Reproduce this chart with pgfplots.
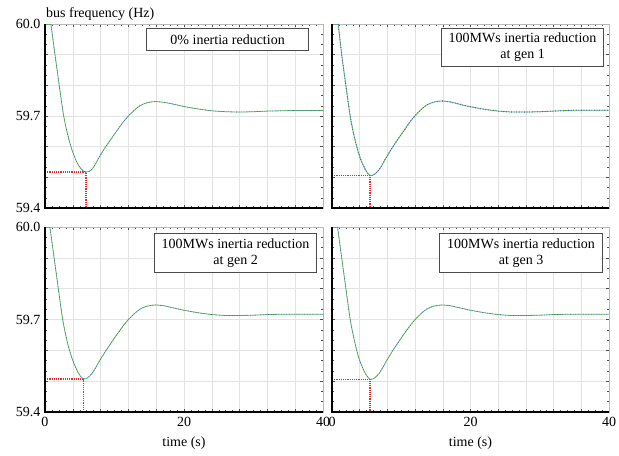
\documentclass[border=0pt]{standalone}
\usepackage{fontspec}
\setmainfont{Liberation Serif}
\usepackage{pgfplots}
\pgfplotsset{compat=1.18}
\usepackage{pgfplotstable}

% frequency traces (from the end of the flat start)
\pgfplotstableread{
t f
0.85 60.000
1.4 59.906
2.0 59.808
2.6 59.712
3.0 59.665
3.5 59.618
4.0 59.582
4.5 59.553
5.0 59.533
5.5 59.521
5.9 59.517
6.3 59.519
6.8 59.527
7.3 59.545
7.9 59.570
8.8 59.602
9.6 59.628
10.5 59.657
11.2 59.679
12.0 59.700
13.0 59.722
13.7 59.734
14.5 59.742
15.3 59.746
16.0 59.747
17.0 59.745
18.0 59.741
19.0 59.736
20.0 59.731
22.0 59.723
24.0 59.717
26.0 59.714
28.0 59.713
30.0 59.714
32.0 59.716
34.0 59.717
36.0 59.718
40.0 59.718
}\base

\pgfplotstableread{
t f
0.9 60.000
1.4 59.900
2.0 59.800
2.6 59.703
3.0 59.655
3.4 59.615
3.8 59.582
4.2 59.555
4.7 59.530
5.1 59.515
5.5 59.506
5.9 59.507
6.3 59.513
6.8 59.525
7.3 59.543
7.9 59.567
8.8 59.600
9.6 59.627
10.5 59.656
11.2 59.679
12.0 59.701
13.0 59.724
13.7 59.736
14.5 59.744
15.3 59.748
16.0 59.749
17.0 59.746
18.0 59.741
19.0 59.735
20.0 59.730
22.0 59.722
24.0 59.716
26.0 59.713
28.0 59.713
30.0 59.714
32.0 59.716
34.0 59.718
36.0 59.719
40.0 59.719
}\genone

\pgfplotstableread{
t f
0.7 60.000
1.3 59.902
1.9 59.803
2.5 59.706
2.9 59.658
3.3 59.618
3.8 59.580
4.2 59.556
4.7 59.531
5.1 59.516
5.5 59.507
5.9 59.508
6.3 59.514
6.8 59.526
7.3 59.544
7.9 59.568
8.8 59.600
9.6 59.627
10.5 59.656
11.2 59.678
12.0 59.700
13.0 59.722
13.7 59.734
14.5 59.742
15.3 59.746
16.0 59.747
17.0 59.745
18.0 59.740
19.0 59.735
20.0 59.730
22.0 59.722
24.0 59.716
26.0 59.713
28.0 59.713
30.0 59.714
32.0 59.716
34.0 59.717
36.0 59.717
40.0 59.717
}\gentwo

\pgfplotstableread{
t f
0.8 60.000
1.4 59.900
2.0 59.801
2.6 59.704
3.0 59.656
3.4 59.616
3.8 59.581
4.2 59.555
4.7 59.530
5.1 59.515
5.5 59.506
5.9 59.507
6.3 59.513
6.8 59.525
7.3 59.543
7.9 59.567
8.8 59.600
9.6 59.627
10.5 59.656
11.2 59.678
12.0 59.700
13.0 59.722
13.7 59.734
14.5 59.742
15.3 59.746
16.0 59.747
17.0 59.745
18.0 59.740
19.0 59.735
20.0 59.730
22.0 59.722
24.0 59.716
26.0 59.713
28.0 59.713
30.0 59.714
32.0 59.716
34.0 59.717
36.0 59.717
40.0 59.717
}\genthree

\definecolor{trgreen}{RGB}{95,180,95}
\definecolor{trblue}{RGB}{60,90,210}
\definecolor{trred}{RGB}{235,40,40}

\pgfplotsset{
  panel/.style={
    scale only axis, width=278bp, height=184bp, anchor=north west,
    xmin=0, xmax=40, ymin=59.4, ymax=60.0,
    xtick={0,4,...,40},
    ytick={59.4,59.5,59.6,59.7,59.8,59.9,60.0},
    minor x tick num=3, minor y tick num=2,
    grid=major, major grid style={gray!22, line width=0.6bp},
    tick align=inside, major tick length=3bp, minor tick length=2bp,
    tick style={gray!60!black, line width=0.5bp},
    axis line style={gray!55, line width=0.8bp},
    clip=false,
    ticklabel style={font=\fontsize{14bp}{16bp}\selectfont},
    xticklabel style={yshift=-2bp},
    yticklabel style={xshift=-1bp},
  },
  nox/.style={xticklabels={,,,,,,,,,,}},
  noy/.style={yticklabels={,,,,,,}},
  withx/.style={xticklabels={0,,,,,20,,,,,40}},
  withy/.style={yticklabels={59.4,,,59.7,,,60.0}},
  trace/.style={draw=trgreen, line width=0.8bp, smooth, tension=0.35},
  overlay/.style={draw=trblue, line width=0.6bp, dotted, smooth, tension=0.35},
  marker/.style={draw=trred, line width=1.3bp, dash pattern=on 1.2bp off 1bp},
}
\tikzset{
  tbox/.style={draw=black!70, line width=0.8bp, fill=white, align=center,
    inner sep=2bp, font=\fontsize{14bp}{15.7bp}\selectfont, anchor=north east},
  frame/.style={black, line width=1.6bp},
}

\begin{document}
\begin{tikzpicture}
\useasboundingbox (0,0) rectangle (619bp,-456bp);

\begin{axis}[panel, nox, withy, at={(45bp,-24bp)}]
\addplot[marker] coordinates {(0,59.517) (5.9,59.517) (5.9,59.4)};
\addplot[draw=trgreen, line width=0.8bp] coordinates {(0,60.0) (0.85,60.0)};
\addplot[trace] table {\base};
\addplot[overlay] table {\base};
\draw[frame] (rel axis cs:0,1) -- (rel axis cs:0,0) -- (rel axis cs:1,0);
\node[tbox, minimum width=162bp, minimum height=22bp, xshift=-14bp, yshift=-4bp] at (rel axis cs:1,1) {0\% inertia reduction};
\end{axis}

\begin{axis}[panel, nox, noy, at={(332bp,-24bp)}, width=277bp]
\addplot[marker] coordinates {(0,59.506) (5.5,59.506) (5.5,59.4)};
\addplot[draw=trgreen, line width=0.8bp] coordinates {(0,60.0) (0.9,60.0)};
\addplot[trace] table {\genone};
\addplot[overlay, line width=1.2bp] table {\genone};
\draw[frame] (rel axis cs:0,1) -- (rel axis cs:0,0) -- (rel axis cs:1,0);
\node[tbox, minimum width=162bp, minimum height=38bp, xshift=-5bp, yshift=-4bp] at (rel axis cs:1,1) {100MWs inertia reduction\\at gen 1};
\end{axis}

\begin{axis}[panel, withx, withy, at={(45bp,-227bp)}, height=185bp]
\addplot[marker] coordinates {(0,59.507) (5.5,59.507) (5.5,59.4)};
\addplot[draw=trgreen, line width=0.8bp] coordinates {(0,60.0) (0.7,60.0)};
\addplot[trace] table {\gentwo};
\addplot[overlay] table {\gentwo};
\draw[frame] (rel axis cs:0,1) -- (rel axis cs:0,0) -- (rel axis cs:1,0);
\node[tbox, minimum width=162bp, minimum height=39bp, xshift=-6bp, yshift=-6bp] at (rel axis cs:1,1) {100MWs inertia reduction\\at gen 2};
\end{axis}

\begin{axis}[panel, withx, noy, at={(332bp,-227bp)}, width=277bp, height=185bp]
\addplot[marker] coordinates {(0,59.506) (5.5,59.506) (5.5,59.4)};
\addplot[draw=trgreen, line width=0.8bp] coordinates {(0,60.0) (0.8,60.0)};
\addplot[trace] table {\genthree};
\addplot[overlay] table {\genthree};
\draw[frame] (rel axis cs:0,1) -- (rel axis cs:0,0) -- (rel axis cs:1,0);
\node[tbox, minimum width=163bp, minimum height=39bp, xshift=-6bp, yshift=-6bp] at (rel axis cs:1,1) {100MWs inertia reduction\\at gen 3};
\end{axis}

\node[anchor=base west, inner sep=0pt, font=\fontsize{14bp}{16bp}\selectfont] at (46bp,-17bp) {bus frequency (Hz)};
\node[font=\fontsize{14bp}{16bp}\selectfont] at (184bp,-443bp) {time (s)};
\node[font=\fontsize{14bp}{16bp}\selectfont] at (470.5bp,-443bp) {time (s)};
\end{tikzpicture}
\end{document}
